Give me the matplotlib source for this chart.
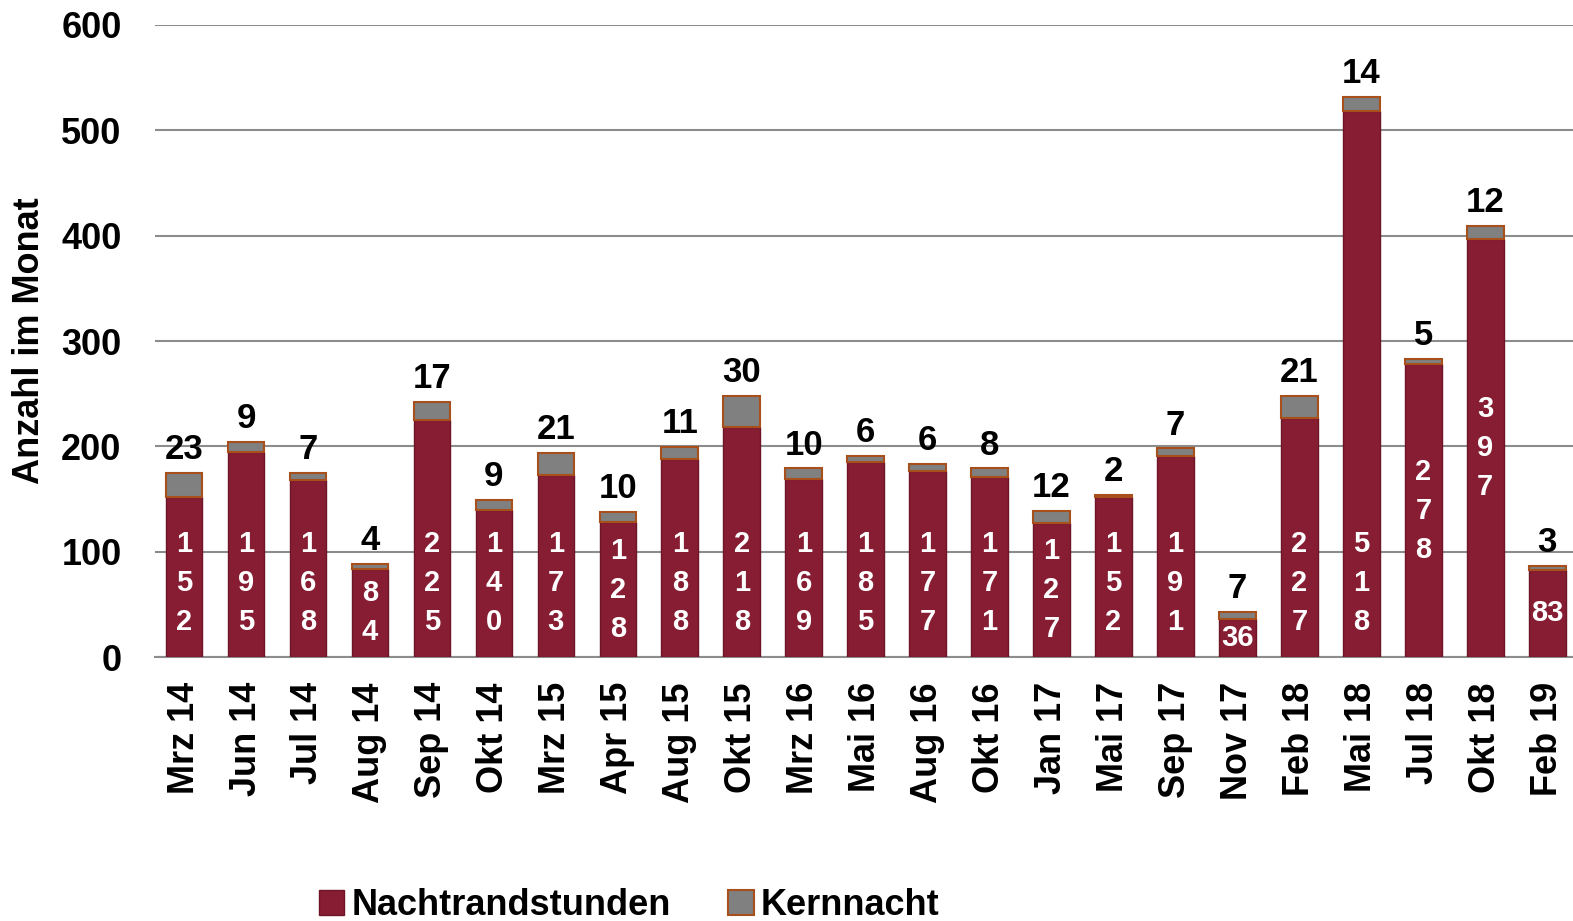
import numpy as np
import matplotlib
matplotlib.use('Agg')
import matplotlib.pyplot as plt
from matplotlib.patches import Patch

plt.rcParams['font.family'] = ['Liberation Sans', 'DejaVu Sans']
plt.rcParams['font.weight'] = 'bold'

months = ['Mrz 14', 'Jun 14', 'Jul 14', 'Aug 14', 'Sep 14', 'Okt 14', 'Mrz 15', 'Apr 15',
          'Aug 15', 'Okt 15', 'Mrz 16', 'Mai 16', 'Aug 16', 'Okt 16', 'Jan 17', 'Mai 17',
          'Sep 17', 'Nov 17', 'Feb 18', 'Mai 18', 'Jul 18', 'Okt 18', 'Feb 19']
nacht = np.array([152, 195, 168, 84, 225, 140, 173, 128, 188, 218, 169, 185, 177, 171,
                  127, 152, 191, 36, 227, 518, 278, 397, 83])
kern = np.array([23, 9, 7, 4, 17, 9, 21, 10, 11, 30, 10, 6, 6, 8, 12, 2, 7, 7, 21, 14,
                 5, 12, 3])
yticks = [0, 100, 200, 300, 400, 500, 600]

RED = '#861D33'
GREY = '#808080'
EDGE = '#A8501C'

fig = plt.figure(figsize=(15.73, 9.21), dpi=100)
ax = fig.add_axes([0.0985, 0.2866, 0.9060, 0.6863])

x = np.arange(len(months))
w = 0.59
ax.bar(x, nacht, w, color=RED, edgecolor='#6E1528', linewidth=1, zorder=3)
ax.bar(x, kern, w, bottom=nacht, color=GREY, edgecolor=EDGE, linewidth=1.5, zorder=3)

# labels inside the red bars (digits stacked vertically, short bars horizontal)
label_y = np.where((nacht < 140) | ((nacht > 250) & (nacht < 450)), nacht / 2, 70)
for i, v in enumerate(nacht):
	s = str(v)
	if v >= 84:
		s = '\n'.join(s)
	ax.text(x[i], label_y[i], s, ha='center', va='center', color='white',
		fontsize=21, fontweight='bold', linespacing=1.5, zorder=4)

# kern values above the bars
for i, v in enumerate(kern):
	ax.annotate(str(v), (x[i], nacht[i] + v), xytext=(0, 5), textcoords='offset points',
		ha='center', va='bottom', fontsize=25, fontweight='bold', zorder=4)

ax.set_ylim(0, 600)
ax.set_xlim(-0.47, len(months) - 0.47)
ax.set_yticks(yticks)
ax.set_yticklabels([str(t) for t in yticks], fontsize=26, fontweight='bold')
ax.set_xticks(x)
ax.set_xticklabels(months, rotation=90, fontsize=26, fontweight='bold')
ax.tick_params(axis='both', length=0)
ax.tick_params(axis='x', pad=18)
ax.tick_params(axis='y', pad=24)
ax.grid(axis='y', color='#8C8C8C', linewidth=1.5, zorder=0)
for side in ['top', 'right', 'left']:
	ax.spines[side].set_visible(False)
ax.spines['bottom'].set_color('#8C8C8C')
ax.spines['bottom'].set_linewidth(1.5)
ax.set_ylabel('Anzahl im Monat', fontsize=26, fontweight='bold', labelpad=10)

handles = [Patch(facecolor=RED, edgecolor='#6E1528', label='Nachtrandstunden'),
           Patch(facecolor=GREY, edgecolor=EDGE, linewidth=1.5, label='Kernnacht')]
fig.legend(handles=handles, loc='lower center', bbox_to_anchor=(0.40, -0.038), ncol=2,
	frameon=False, fontsize=26, handlelength=0.7, handleheight=0.7, handletextpad=0.2,
	columnspacing=1.6)

fig.savefig('out.png', dpi=100)
